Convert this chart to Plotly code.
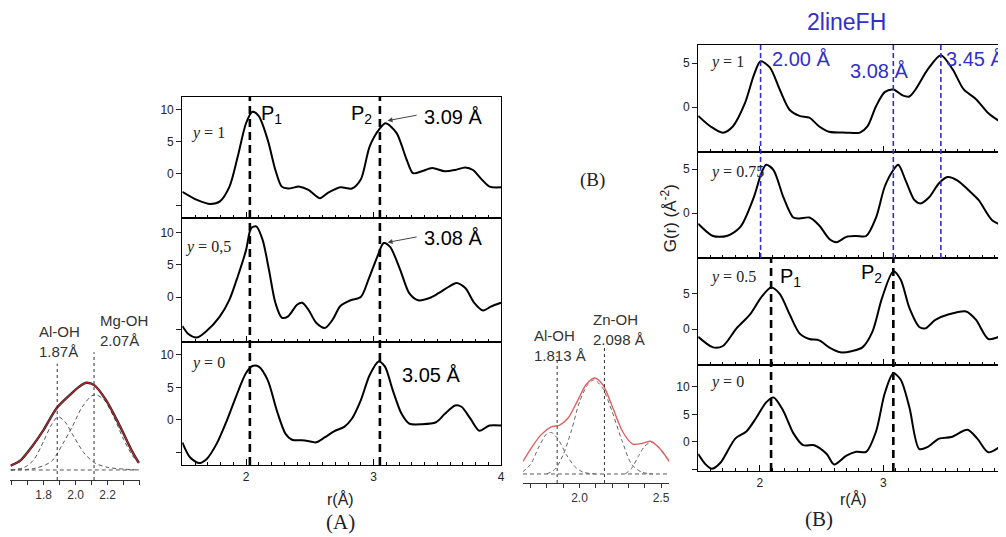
import plotly.graph_objects as go

# window is 1006x537, the page body has an 8px margin -> figure 998x529
W, H = 998, 529
OFF = 8

# ---------------- panel (A): G(r), y = 1 / 0,5 / 0 ----------------
a_r1 = [1.5, 1.615, 1.72, 1.795, 1.87, 1.935, 2.0, 2.05, 2.10, 2.17, 2.23, 2.28, 2.33, 2.42, 2.49, 2.58,
        2.64, 2.74, 2.83, 2.90, 2.97, 3.05, 3.095, 3.18, 3.26, 3.31, 3.38, 3.46, 3.56, 3.64, 3.72, 3.78,
        3.85, 3.91, 4.0]
a_g1 = [-2.8, -4.06, -4.7, -4.3, -2.0, 2.7, 7.9, 9.7, 9.0, 5.3, 0.6, -2.0, -2.3, -2.0, -2.5, -3.8,
        -3.0, -2.1, -2.3, -0.9, 4.3, 7.1, 7.9, 6.4, 2.2, 0.1, 0.4, 0.9, 0.4, 0.6, 1.0, 0.6,
        -0.9, -2.0, -2.1]
a_r2 = [1.5, 1.55, 1.615, 1.69, 1.795, 1.87, 1.935, 2.0, 2.04, 2.08, 2.13, 2.18, 2.23, 2.28, 2.33, 2.40,
        2.44, 2.49, 2.55, 2.62, 2.68, 2.74, 2.82, 2.90, 2.96, 3.03, 3.08, 3.13, 3.21, 3.28, 3.35, 3.44,
        3.51, 3.59, 3.65, 3.72, 3.79, 3.86, 3.92, 4.0]
a_g2 = [-4.5, -5.8, -6.3, -5.3, -3.0, -0.4, 3.2, 7.3, 10.7, 11.0, 8.9, 4.2, -0.9, -3.2, -3.0, -1.2,
        -0.9, -2.0, -4.0, -4.8, -3.5, -1.4, -0.5, 0.0, 2.7, 6.3, 8.4, 7.8, 4.2, 0.6, -0.5, -0.15,
        0.6, 1.6, 2.2, 1.4, -0.9, -2.1, -1.5, -0.9]
a_r3 = [1.5, 1.56, 1.63, 1.69, 1.77, 1.85, 1.92, 2.0, 2.05, 2.10, 2.17, 2.24, 2.31, 2.36, 2.46, 2.55,
        2.62, 2.69, 2.77, 2.83, 2.90, 2.97, 3.04, 3.09, 3.15, 3.22, 3.28, 3.38, 3.49, 3.56, 3.64, 3.69,
        3.76, 3.83, 3.91, 4.0]
a_g3 = [-3.5, -5.8, -6.7, -6.1, -3.7, -0.1, 3.5, 7.2, 8.3, 8.2, 6.1, 1.5, -2.2, -3.1, -3.2, -3.5,
        -2.7, -1.8, -1.1, 0.15, 3.0, 6.9, 9.0, 8.2, 4.6, 0.9, -0.6, -0.7, -0.4, 0.9, 2.2, 2.0,
        0.15, -1.7, -0.9, -0.9]
a_labels = ["<i>y</i> = 1", "<i>y</i> = 0,5", "<i>y</i> = 0"]
a_peaks = [2.03, 3.05]
a_p2_text = ["3.09 Å", "3.08 Å", "3.05 Å"]

# ---------------- panel (B): 2lineFH, y = 1 / 0.75 / 0.5 / 0 ----------------
b_r1 = [1.5, 1.6, 1.7, 1.78, 1.88, 1.95, 2.005, 2.08, 2.16, 2.24, 2.32, 2.40, 2.48, 2.56, 2.70, 2.81,
        2.87, 2.94, 3.01, 3.08, 3.16, 3.21, 3.26, 3.36, 3.465, 3.56, 3.65, 3.75, 3.85, 3.96]
b_g1 = [-1.0, -2.2, -2.9, -2.2, 0.5, 3.6, 5.2, 4.5, 2.0, -0.3, -1.0, -1.2, -2.2, -2.8, -2.9, -2.9,
        -2.2, 0.1, 1.7, 2.0, 1.3, 1.2, 2.0, 4.3, 5.9, 4.3, 2.0, 0.9, -0.7, -1.8]
b_r2 = [1.5, 1.62, 1.73, 1.84, 1.95, 2.01, 2.05, 2.11, 2.19, 2.27, 2.32, 2.40, 2.48, 2.56, 2.62, 2.70,
        2.78, 2.86, 2.94, 3.01, 3.08, 3.12, 3.18, 3.25, 3.30, 3.37, 3.45, 3.52, 3.60, 3.69, 3.77, 3.88, 3.96]
b_g2 = [-1.2, -2.6, -2.6, -1.6, 1.8, 4.5, 5.5, 4.9, 1.8, -0.5, -0.6, -0.5, -1.4, -2.9, -3.3, -2.7,
        -2.6, -2.6, -0.5, 3.0, 4.9, 5.5, 3.7, 1.5, 1.1, 1.8, 3.4, 4.1, 3.7, 2.6, 1.5, -0.8, -1.4]
b_r3 = [1.5, 1.62, 1.70, 1.81, 1.92, 2.01, 2.09, 2.16, 2.24, 2.32, 2.40, 2.48, 2.56, 2.65, 2.75, 2.83,
        2.91, 2.99, 3.08, 3.14, 3.21, 3.29, 3.34, 3.42, 3.53, 3.67, 3.75, 3.85, 3.96]
b_g3 = [-1.1, -2.6, -2.4, 0.1, 2.1, 4.5, 5.9, 5.0, 2.1, -0.6, -1.4, -1.6, -2.6, -3.3, -3.1, -2.6,
        -0.4, 4.5, 8.2, 7.0, 3.0, 0.3, 0.1, 1.3, 2.1, 2.5, 1.3, -1.4, -0.9]
b_r4 = [1.5, 1.56, 1.61, 1.68, 1.80, 1.89, 1.97, 2.05, 2.11, 2.19, 2.27, 2.35, 2.44, 2.54, 2.60, 2.70,
        2.78, 2.86, 2.94, 3.01, 3.08, 3.14, 3.21, 3.29, 3.36, 3.45, 3.55, 3.68, 3.76, 3.85, 3.96]
b_g4 = [-2.2, -4.1, -4.9, -3.8, 0.6, 1.9, 4.4, 7.2, 8.1, 5.6, 1.6, -0.6, -0.6, -2.2, -4.1, -2.5,
        -1.8, -1.8, 1.9, 8.8, 12.5, 11.3, 6.3, -1.3, -0.9, 0.6, 0.9, 2.2, 0.6, -1.9, -0.6]
b_labels = ["<i>y</i> = 1", "<i>y</i> = 0.75", "<i>y</i> = 0.5", "<i>y</i> = 0"]
b_blue_peaks = [2.005, 3.08, 3.465]
b_blue_text = ["2.00 Å", "3.08 Å", "3.45 Å"]
b_black_peaks = [2.09, 3.08]

# ---------------- inset: Al-OH / Mg-OH fit ----------------
m_r = [1.595, 1.656, 1.728, 1.80, 1.882, 1.964, 2.026, 2.067, 2.118, 2.19, 2.272, 2.354, 2.395]
m_g = [0.05, 0.11, 0.27, 0.46, 0.71, 0.86, 0.96, 1.0, 0.97, 0.80, 0.52, 0.21, 0.08]
m_al_r = [1.595, 1.68, 1.74, 1.80, 1.85, 1.89, 1.93, 1.99, 2.05, 2.12, 2.20, 2.30, 2.395]
m_al_g = [0.0, 0.03, 0.12, 0.33, 0.52, 0.61, 0.56, 0.38, 0.20, 0.08, 0.03, 0.01, 0.0]
m_mg_r = [1.595, 1.75, 1.85, 1.92, 1.98, 2.04, 2.10, 2.13, 2.18, 2.24, 2.30, 2.36, 2.395]
m_mg_g = [0.0, 0.02, 0.10, 0.30, 0.50, 0.72, 0.85, 0.86, 0.80, 0.60, 0.35, 0.15, 0.08]
m_lines = [1.885, 2.115]
m_line_top = [1.22, 1.35]
m_ticks = [1.8, 2.0, 2.2]
m_minor = [1.6, 1.7, 1.9, 2.1, 2.3, 2.4]

# ---------------- inset: Al-OH / Zn-OH fit ----------------
z_r = [1.653, 1.704, 1.765, 1.827, 1.878, 1.929, 1.99, 2.04, 2.092, 2.143, 2.204, 2.265, 2.327, 2.388,
       2.439, 2.50, 2.551]
z_g = [0.13, 0.27, 0.41, 0.49, 0.51, 0.58, 0.77, 0.93, 1.0, 0.93, 0.69, 0.44, 0.31, 0.32,
       0.34, 0.25, 0.13]
z_al_r = [1.65, 1.70, 1.75, 1.80, 1.83, 1.87, 1.92, 1.97, 2.02, 2.10]
z_al_g = [0.02, 0.10, 0.28, 0.42, 0.43, 0.36, 0.20, 0.08, 0.02, 0.0]
z_zn_r = [1.80, 1.85, 1.90, 1.95, 2.00, 2.05, 2.09, 2.14, 2.20, 2.26, 2.32, 2.38, 2.45]
z_zn_g = [0.0, 0.05, 0.20, 0.45, 0.75, 0.93, 0.98, 0.90, 0.65, 0.35, 0.10, 0.02, 0.0]
z_c3_r = [2.28, 2.32, 2.36, 2.40, 2.44, 2.48, 2.52, 2.55]
z_c3_g = [0.0, 0.06, 0.18, 0.29, 0.33, 0.29, 0.20, 0.13]
z_lines = [1.863, 2.153]
z_line_top = [1.23, 1.32]
z_ticks = [2.0, 2.5]
z_minor = [1.7, 1.8, 1.9, 2.1, 2.2, 2.3, 2.4]

SANS = "Arial, Liberation Sans, sans-serif"
SERIF = "Times New Roman, Liberation Serif, serif"
BLUE = "#3030c8"


# screen pixel (in the 1006x537 window) -> paper fraction
def px(x):
    return (x - OFF) / W


def py(y):
    return 1 - (y - OFF) / H


def xdom(a, b):
    return [max(0.0, px(a)), min(1.0, px(b))]


def ydom(top, bot):
    return [max(0.0, py(bot)), min(1.0, py(top))]


fig = go.Figure()
layout = {}


def add_line(xs, ys, n, color="black", width=2, dash=None):
    fig.add_trace(go.Scatter(
        x=xs, y=ys, mode="lines", xaxis="x" + ("" if n == 1 else str(n)),
        yaxis="y" + ("" if n == 1 else str(n)), showlegend=False, hoverinfo="skip",
        line=dict(color=color, width=width, dash=dash, shape="spline", smoothing=0.8)))


def main_axes(n, xd, yd, xr, yr, yt, y_unlab, bottom):
    key = "" if n == 1 else str(n)
    layout["xaxis" + key] = dict(
        domain=xd, range=xr, anchor="y" + key, showline=True, mirror=True, linecolor="black",
        linewidth=1.3, ticks="inside", tickvals=[2, 3, 4], ticklen=6, tickcolor="black",
        minor=dict(dtick=0.1, tick0=1.5, ticks="inside", ticklen=3, tickcolor="black"),
        showgrid=False, zeroline=False, showticklabels=bottom,
        tickfont=dict(family=SANS, size=12, color="#222"), fixedrange=True)
    ymin = dict(tickmode="array", tickvals=y_unlab, ticks="outside", ticklen=5, tickcolor="#222") \
        if y_unlab else dict(ticks="")
    layout["yaxis" + key] = dict(
        domain=yd, range=yr, anchor="x" + key, showline=True, mirror=True, linecolor="black",
        linewidth=1.3, ticks="outside", ticklen=5, tickcolor="#222", tickvals=yt,
        minor=ymin, showgrid=False, zeroline=False,
        tickfont=dict(family=SANS, size=12, color="#222"), fixedrange=True)


# panel A axes
a_x = xdom(183, 503)
main_axes(1, a_x, ydom(97, 218), [1.5, 4.0], [-6.9, 12.0], [0, 5, 10], [-5], False)
main_axes(2, a_x, ydom(218, 342), [1.5, 4.0], [-7.0, 12.3], [0, 5, 10], [-5], False)
main_axes(3, a_x, ydom(342, 465), [1.5, 4.0], [-7.0, 12.0], [0, 5, 10], [-5], True)
for n, (r, g) in zip([1, 2, 3], [(a_r1, a_g1), (a_r2, a_g2), (a_r3, a_g3)]):
    add_line(r, g, n)

# panel B axes (runs off the right edge of the picture)
b_x = xdom(701, 1006)
main_axes(4, b_x, ydom(45, 152), [1.5, 3.96], [-5.1, 7.05], [0, 5], None, False)
main_axes(5, b_x, ydom(152, 258), [1.5, 3.96], [-5.1, 6.95], [0, 5], None, False)
main_axes(6, b_x, ydom(258, 365), [1.5, 3.96], [-5.1, 10.1], [0, 5], None, False)
main_axes(7, b_x, ydom(365, 471), [1.5, 3.96], [-5.3, 14.0], [0, 5, 10], [-5], True)
for n, (r, g) in zip([4, 5, 6, 7], [(b_r1, b_g1), (b_r2, b_g2), (b_r3, b_g3), (b_r4, b_g4)]):
    add_line(r, g, n)


def inset_axes(n, xd, yd, xr, yr, tv, mv):
    layout["xaxis%d" % n] = dict(
        domain=xd, range=xr, anchor="y%d" % n, showline=True, linecolor="#333", linewidth=1,
        ticks="outside", ticklen=4, tickcolor="#333", tickvals=tv, tickformat=".1f",
        minor=dict(tickmode="array", tickvals=mv, ticks="outside", ticklen=4, tickcolor="#333"),
        showgrid=False, zeroline=False, tickfont=dict(family=SANS, size=12, color="#333"),
        fixedrange=True)
    layout["yaxis%d" % n] = dict(domain=yd, range=yr, anchor="x%d" % n, visible=False,
                                 fixedrange=True)


# Mg inset
inset_axes(8, xdom(10, 141), ydom(340, 480), [1.59, 2.405], [-0.115, 1.49], m_ticks, m_minor)
add_line([m_r[0], m_r[-1]], [0, 0], 8, color="#555", width=1, dash="4px,3px")
add_line(m_al_r, m_al_g, 8, color="#555", width=1, dash="4px,3px")
add_line(m_mg_r, m_mg_g, 8, color="#555", width=1, dash="4px,3px")
add_line(m_r, m_g, 8, color="#222", width=2.4)
add_line(m_r, m_g, 8, color="#b02828", width=1.3)

# Zn inset
inset_axes(9, xdom(525, 672), ydom(330, 483), [1.653, 2.551], [-0.094, 1.5], z_ticks, z_minor)
add_line([z_r[0], z_r[-1]], [0, 0], 9, color="#555", width=1, dash="4px,3px")
add_line(z_al_r, z_al_g, 9, color="#666", width=1, dash="4px,3px")
add_line(z_zn_r, z_zn_g, 9, color="#666", width=1, dash="4px,3px")
add_line(z_c3_r, z_c3_g, 9, color="#666", width=1, dash="4px,3px")
add_line(z_r, z_g, 9, color="#e06060", width=1.4)

shapes = []
# dashed peak markers, panel A (span all three sub-panels)
for xv in a_peaks:
    shapes.append(dict(type="line", xref="x", yref="paper", x0=xv, x1=xv, y0=py(465), y1=py(97),
                       line=dict(color="black", width=2.6, dash="8px,5px")))
# panel B: blue in the upper two, black in the lower two
for xv in b_blue_peaks:
    shapes.append(dict(type="line", xref="x4", yref="paper", x0=xv, x1=xv, y0=py(258), y1=py(45),
                       line=dict(color=BLUE, width=1.6, dash="5px,3px")))
for xv in b_black_peaks:
    shapes.append(dict(type="line", xref="x4", yref="paper", x0=xv, x1=xv, y0=py(471), y1=py(258),
                       line=dict(color="black", width=2.6, dash="8px,5px")))
# inset guide lines
for xv, top in zip(m_lines, m_line_top):
    shapes.append(dict(type="line", xref="x8", yref="y8", x0=xv, x1=xv, y0=-0.115, y1=top,
                       line=dict(color="#333", width=1, dash="dot")))
for xv, top in zip(z_lines, z_line_top):
    shapes.append(dict(type="line", xref="x9", yref="y9", x0=xv, x1=xv, y0=-0.094, y1=top,
                       line=dict(color="#333", width=1, dash="dot")))

ann = []


def txt(x, y, s, size, family=SANS, color="black", xanchor="center", align="center", angle=0):
    ann.append(dict(x=px(x), y=py(y), xref="paper", yref="paper", text=s, showarrow=False,
                    xanchor=xanchor, yanchor="middle", align=align, textangle=angle,
                    font=dict(family=family, size=size, color=color)))


# panel A texts
for lab, yy in zip(a_labels, [133, 247, 363]):
    txt(209, yy, lab, 16, family=SERIF, color="#222")
txt(273, 114, "P<sub>1</sub>", 20)
txt(363, 114, "P<sub>2</sub>", 20)
for s, (xx, yy) in zip(a_p2_text, [(455, 117), (455, 238), (433, 375)]):
    txt(xx, yy, s, 20)
for n, tail, head in [(1, (3.35, 9.2), (3.11, 8.3)), (2, (3.35, 9.4), (3.11, 8.5))]:
    key = "" if n == 1 else str(n)
    ann.append(dict(x=head[0], y=head[1], ax=tail[0], ay=tail[1], xref="x" + key, yref="y" + key,
                    axref="x" + key, ayref="y" + key, text="", showarrow=True, arrowhead=2,
                    arrowsize=1, arrowwidth=1, arrowcolor="#444"))
txt(342, 499, "r(Å)", 16, color="#222")
txt(342, 522, "(A)", 21, family=SERIF, color="#222")

# panel B texts
txt(850, 22, "2lineFH", 23, color=BLUE)
txt(804, 59, b_blue_text[0], 20, color=BLUE)
txt(883, 71, b_blue_text[1], 20, color=BLUE)
txt(948, 59, b_blue_text[2], 20, color=BLUE, xanchor="left")
for lab, yy in zip(b_labels, [62, 172, 277, 382]):
    txt(711, yy, lab, 16, family=SERIF, color="#222", xanchor="left")
txt(794, 277, "P<sub>1</sub>", 20)
txt(875, 273, "P<sub>2</sub>", 20)
txt(672, 218, "G(r) (Å<sup>-2</sup>)", 17, color="#222", angle=-90)
txt(857, 499, "r(Å)", 16, color="#222")
txt(822, 519, "(B)", 21, family=SERIF, color="#222")
txt(595, 180, "(B)", 19, family=SERIF, color="#222")

# inset texts
txt(37, 341, "Al-OH<br>1.87Å", 15, color="#333", xanchor="left", align="left")
txt(98, 330, "Mg-OH<br>2.07Å", 15, color="#333", xanchor="left", align="left")
txt(534, 345, "Al-OH<br>1.813 Å", 15, color="#333", xanchor="left", align="left")
txt(593, 329, "Zn-OH<br>2.098 Å", 15, color="#333", xanchor="left", align="left")

fig.update_layout(
    width=W, height=H, margin=dict(l=0, r=0, t=0, b=0),
    paper_bgcolor="white", plot_bgcolor="white", showlegend=False,
    shapes=shapes, annotations=ann, **layout)

fig.write_html("out.html")
